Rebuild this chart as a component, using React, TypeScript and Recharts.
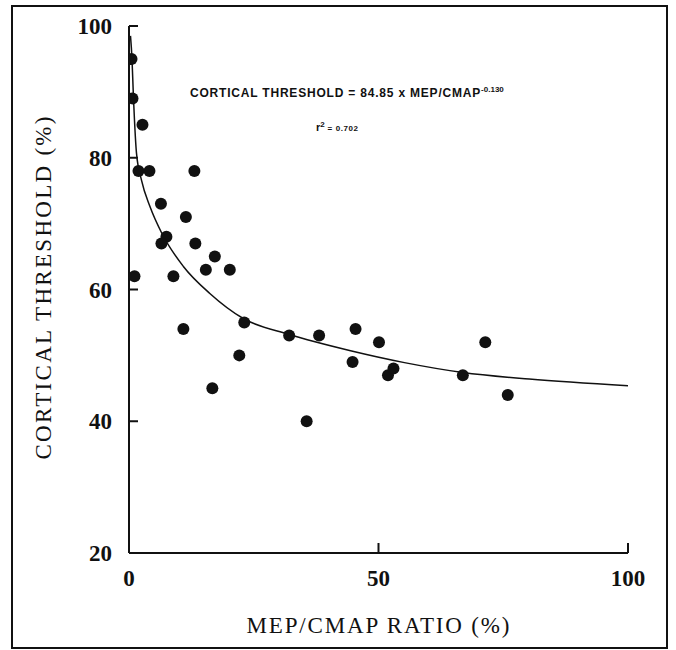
import { ComposedChart, Line, Scatter, XAxis, YAxis, Customized } from "recharts"

// measured points (MEP/CMAP ratio %, cortical threshold %)
const ratio = [0.5, 0.7, 2.7, 1.9, 4.1, 13.1, 6.4, 11.4, 7.5, 6.5, 13.3, 17.2, 15.4, 20.2, 1.1, 8.9, 10.9, 16.7, 23.1, 22.1, 32.1, 38.1, 35.6, 45.4, 44.8, 50.1, 51.9, 53.0, 66.9, 71.4, 75.9]
const threshold = [95, 89, 85, 78, 78, 78, 73, 71, 68, 67, 67, 65, 63, 63, 62, 62, 54, 45, 55, 50, 53, 53, 40, 54, 49, 52, 47, 48, 47, 52, 44]

// fitted curve
const fitX = [0.3, 0.6, 0.9, 1.1, 1.5, 2.5, 4.2, 6.6, 10.9, 16.2, 22.9, 32, 44.4, 55.2, 66.9, 80.2, 100]
const fitY = [98.5, 95, 89, 85.7, 80.7, 76.6, 72.6, 68.5, 63.5, 59.4, 55.6, 53.2, 50.7, 48.9, 47.4, 46.4, 45.4]

const xTicks = [0, 50, 100]
const yTicks = [20, 40, 60, 80, 100]

const points = ratio.map((x, i) => ({ x, y: threshold[i] }))
const curve = fitX.map((x, i) => ({ x, y: fitY[i] }))

const tickFont = { fontFamily: "'Liberation Serif', serif", fontSize: 23, fontWeight: 700, fill: "#111" }

function YTick(props: any) {
  const { x, y, payload } = props
  return (
    <g>
      <line x1={x} x2={x + 9} y1={y} y2={y} stroke="#111" strokeWidth={2} />
      <text x={x - 17} y={y} dy={8} textAnchor="end" {...tickFont}>{payload.value}</text>
    </g>
  )
}

function XTick(props: any) {
  const { x, y, payload } = props
  return (
    <g>
      <line x1={x} x2={x} y1={y} y2={y - 10} stroke="#111" strokeWidth={2} />
      <text x={x} y={y + 33} textAnchor="middle" {...tickFont}>{payload.value}</text>
    </g>
  )
}

function Dot(props: any) {
  return <circle cx={props.cx} cy={props.cy} r={6} fill="#111" />
}

function Labels() {
  const sans = { fontFamily: "'Liberation Sans', Arial, sans-serif", fontWeight: 900, fill: "#111" }
  return (
    <g>
      <text x={190} y={97} fontSize={12} letterSpacing={0.8} {...sans}>
        CORTICAL THRESHOLD = 84.85 x MEP/CMAP
        <tspan dy={-5} fontSize={8} letterSpacing={0}>-0.130</tspan>
      </text>
      <text x={316} y={131} fontSize={11} {...sans}>
        r<tspan dy={-4} fontSize={8}>2</tspan>
        <tspan dy={4} fontSize={8} letterSpacing={0.6}> = 0.702</tspan>
      </text>
      <text
        x={378} y={633} textAnchor="middle" textLength={263} lengthAdjust="spacing"
        fontFamily="'Liberation Serif', serif" fontSize={23} fill="#111"
      >
        MEP/CMAP RATIO (%)
      </text>
      <text
        x={43} y={288} textAnchor="middle" dominantBaseline="central"
        transform="rotate(-90, 43, 288)" textLength={343} lengthAdjust="spacing"
        fontFamily="'Liberation Serif', serif" fontSize={23} fill="#111"
      >
        CORTICAL THRESHOLD (%)
      </text>
    </g>
  )
}

export default function App() {
  return (
    <div style={{ position: "absolute", left: 0, top: 0, width: 676, height: 650, background: "#fff" }}>
      <div
        style={{
          position: "absolute", left: 11, top: 5, width: 657, height: 644,
          border: "2.5px solid #111", boxSizing: "border-box",
        }}
      />
      <ComposedChart
        width={676}
        height={650}
        margin={{ top: 26, right: 48, bottom: 57, left: 0 }}
        style={{ position: "absolute", left: 0, top: 0 }}
      >
        <XAxis
          type="number"
          dataKey="x"
          domain={[0, 100]}
          ticks={xTicks}
          height={40}
          tickSize={0}
          tickMargin={0}
          tick={<XTick />}
          tickLine={false}
          axisLine={{ stroke: "#111", strokeWidth: 2 }}
          allowDataOverflow
        />
        <YAxis
          type="number"
          dataKey="y"
          domain={[20, 100]}
          ticks={yTicks}
          width={129}
          tickSize={0}
          tickMargin={0}
          tick={<YTick />}
          tickLine={false}
          axisLine={{ stroke: "#111", strokeWidth: 2 }}
          allowDataOverflow
        />
        <Line
          data={curve}
          dataKey="y"
          type="monotone"
          stroke="#111"
          strokeWidth={1.5}
          dot={false}
          activeDot={false}
          isAnimationActive={false}
        />
        <Scatter data={points} dataKey="y" shape={<Dot />} isAnimationActive={false} />
        <Customized component={<Labels />} />
      </ComposedChart>
    </div>
  )
}
